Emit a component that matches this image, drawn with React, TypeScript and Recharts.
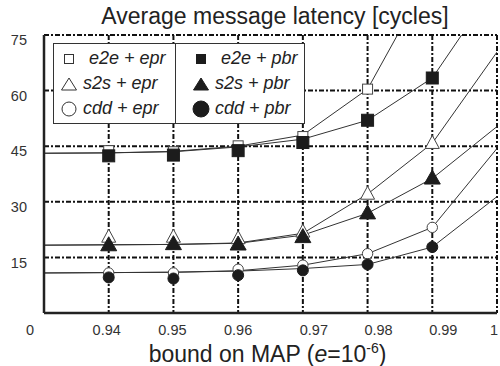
import React from 'react'
import { ComposedChart, Line, XAxis, YAxis, CartesianGrid } from 'recharts'

document.body.style.margin = '0'

// x positions (bound on MAP)
const CURVE_X = [0.93, 0.94, 0.95, 0.96, 0.97, 0.98, 0.99, 1]
const POINT_X = [0.94, 0.95, 0.96, 0.97, 0.98, 0.99]
const X_TICKS = [0.93, 0.94, 0.95, 0.96, 0.97, 0.98, 0.99, 1]
const X_LABELS = ['0', '0.94', '0.95', '0.96', '0.97', '0.98', '0.99', '1']
const Y_TICKS = [0, 15, 30, 45, 60, 75]

// model curves
const e2eEprCurve = [43.1, 43.2, 43.6, 45.0, 48.0, 60.4, 92, 140]
const e2ePbrCurve = [43.1, 43.2, 43.5, 44.8, 46.9, 52.0, 63.4, 89]
const s2sEprCurve = [18.3, 18.4, 18.5, 18.9, 21.5, 32.1, 45.8, 70.4]
const s2sPbrCurve = [18.3, 18.4, 18.5, 18.8, 21.0, 26.9, 36.3, 50.3]
const cddEprCurve = [10.8, 10.9, 11.0, 11.4, 12.9, 16.0, 23.1, 44.4]
const cddPbrCurve = [10.8, 10.9, 11.0, 11.3, 12.0, 13.1, 17.8, 31.4]

// simulated points (e2e + epr at 0.99 is off the chart)
const e2eEprPts = [43.8, 43.5, 45.1, 47.6, 60.4]
const e2ePbrPts = [42.4, 42.6, 43.8, 46.0, 52.0, 63.4]
const s2sEprPts = [20.5, 20.5, 20.1, 21.9, 32.1, 45.8]
const s2sPbrPts = [18.3, 18.6, 18.5, 20.5, 26.9, 36.3]
const cddEprPts = [10.8, 10.8, 11.8, 12.9, 16.0, 23.1]
const cddPbrPts = [9.6, 9.3, 10.2, 11.5, 13.1, 17.8]

type Shape = 'square' | 'triangle' | 'circle'

const toRows = (xs: number[], ys: number[]) => ys.map((y, i) => ({ x: xs[i], y }))

const curves = [e2eEprCurve, e2ePbrCurve, s2sEprCurve, s2sPbrCurve, cddEprCurve, cddPbrCurve]

const pointSeries: { name: string; shape: Shape; filled: boolean; ys: number[] }[] = [
  { name: 'e2e + epr', shape: 'square',   filled: false, ys: e2eEprPts },
  { name: 's2s + epr', shape: 'triangle', filled: false, ys: s2sEprPts },
  { name: 'cdd + epr', shape: 'circle',   filled: false, ys: cddEprPts },
  { name: 'e2e + pbr', shape: 'square',   filled: true,  ys: e2ePbrPts },
  { name: 's2s + pbr', shape: 'triangle', filled: true,  ys: s2sPbrPts },
  { name: 'cdd + pbr', shape: 'circle',   filled: true,  ys: cddPbrPts },
]

const FONT = '"Liberation Sans", Arial, sans-serif'
const INK = '#1c1c1c'

function Marker({ cx, cy, shape, filled, k }: { cx: number; cy: number; shape: Shape; filled: boolean; k?: string }) {
  const fill = filled ? INK : '#fff'
  const stroke = filled ? INK : '#444'
  if (shape === 'square') {
    const s = filled ? 12 : 10
    return <rect key={k} x={cx - s / 2} y={cy - s / 2} width={s} height={s} fill={fill} stroke={stroke} strokeWidth={1} />
  }
  if (shape === 'triangle') {
    const w = filled ? 16 : 14
    const h = filled ? 14 : 13
    return (
      <polygon key={k}
        points={`${cx},${cy - h * 0.6} ${cx + w / 2},${cy + h * 0.4} ${cx - w / 2},${cy + h * 0.4}`}
        fill={fill} stroke={stroke} strokeWidth={1} />
    )
  }
  const r = filled ? 5.5 : 5.2
  return <circle key={k} cx={cx} cy={cy} r={r} fill={fill} stroke={stroke} strokeWidth={1} />
}

// labels sit a little off their gridlines in the original
const NUDGE: Record<string, number> = { '0': -14, '0.94': -2, '0.95': -1, '0.96': 0, '0.97': 11, '0.98': 11, '0.99': 11, '1': -2 }

const XTick = ({ x, y, payload }: any) => {
  const i = X_TICKS.indexOf(payload.value)
  const label = X_LABELS[i] ?? String(payload.value)
  return (
    <text x={x + (NUDGE[label] ?? 0)} y={y} dy="0.71em" textAnchor="middle" fontSize={14.5} fontFamily={FONT} fill="#333">
      {label}
    </text>
  )
}

const YTick = ({ x, y, payload }: any) => {
  if (payload.value === 0) return null
  return (
    <text x={x} y={y + 5} dy="0.355em" textAnchor="end" fontSize={14.5} fontFamily={FONT} fill="#333">
      {payload.value}
    </text>
  )
}

const XTitle = ({ viewBox }: any) => (
  <text x={viewBox.x + viewBox.width / 2 - 3} y={362} textAnchor="middle" fontSize={23} fontFamily={FONT} fill="#222">
    bound on MAP (<tspan fontStyle="italic">e</tspan>=10<tspan fontSize={14} dy={-9}>-6</tspan><tspan dy={9}>)</tspan>
  </text>
)

function LegendIcon({ shape, filled }: { shape: Shape; filled: boolean }) {
  const fill = filled ? INK : '#fff'
  const stroke = filled ? INK : '#333'
  return (
    <svg width={18} height={18} style={{ display: 'block' }}>
      {shape === 'square' && (filled
        ? <rect x={4} y={4} width={10} height={10} fill={fill} />
        : <rect x={4.5} y={4.5} width={9} height={9} fill={fill} stroke={stroke} />)}
      {shape === 'triangle' && <polygon points="9,3 16.5,15 1.5,15" fill={fill} stroke={stroke} />}
      {shape === 'circle' && <circle cx={9} cy={9} r={filled ? 8 : 7} fill={fill} stroke={stroke} />}
    </svg>
  )
}

function LegendBox() {
  const cols = [pointSeries.slice(0, 3), pointSeries.slice(3)]
  return (
    <div style={{
      position: 'absolute', left: 53, top: 43, width: 252, height: 81,
      border: '1px solid #333', background: '#fff', display: 'flex', boxSizing: 'border-box',
      fontFamily: FONT, fontSize: 18, fontStyle: 'italic', color: '#222',
    }}>
      {cols.map((col, ci) => (
        <div key={ci} style={{
          width: ci === 0 ? 122 : 129, borderLeft: ci === 1 ? '1px solid #333' : 'none',
          display: 'flex', flexDirection: 'column', justifyContent: 'space-around', padding: '2px 0',
        }}>
          {col.map(s => (
            <div key={s.name} style={{ display: 'flex', alignItems: 'center', height: 25, paddingLeft: ci === 0 ? 6 : 16 }}>
              <LegendIcon shape={s.shape} filled={s.filled} />
              <span style={{ marginLeft: s.shape === 'square' ? 11 : 5, whiteSpace: 'pre' }}>{s.name}</span>
            </div>
          ))}
        </div>
      ))}
    </div>
  )
}

export default function App() {
  return (
    <div style={{ position: 'relative', width: 500, height: 366, background: '#fff', overflow: 'hidden' }}>
      <div style={{
        position: 'absolute', left: 0, top: 2, width: 550, textAlign: 'center',
        fontFamily: FONT, fontSize: 23, color: '#222', lineHeight: '28px',
      }}>
        Average message latency [cycles]
      </div>
      <ComposedChart width={500} height={366} margin={{ top: 35, right: 3, bottom: 0, left: 0 }}>
        <CartesianGrid stroke="#111" strokeWidth={2} strokeDasharray="5 2 2 2" />
        <XAxis
          type="number" dataKey="x" domain={[0.93, 1]} ticks={X_TICKS} allowDataOverflow
          height={53} tickSize={0} tickMargin={12} tick={<XTick />}
          axisLine={{ stroke: '#222', strokeWidth: 2.5 }}
          label={{ content: <XTitle /> }}
        />
        <YAxis
          type="number" domain={[0, 75]} ticks={Y_TICKS} allowDataOverflow
          width={44} tickSize={0} tickMargin={17} tick={<YTick />}
          axisLine={{ stroke: '#222', strokeWidth: 2.5 }}
        />
        {curves.map((c, i) => (
          <Line key={`curve-${i}`} data={toRows(CURVE_X, c)} dataKey="y" type="linear"
            stroke="#333" strokeWidth={1} dot={false} activeDot={false} isAnimationActive={false} />
        ))}
        {pointSeries.map(s => (
          <Line key={s.name} name={s.name} data={toRows(POINT_X, s.ys)} dataKey="y"
            stroke="none" isAnimationActive={false} activeDot={false}
            dot={(p: any) => <Marker k={`${s.name}-${p.index}`} cx={p.cx} cy={p.cy} shape={s.shape} filled={s.filled} />}
          />
        ))}
      </ComposedChart>
      <LegendBox />
    </div>
  )
}
